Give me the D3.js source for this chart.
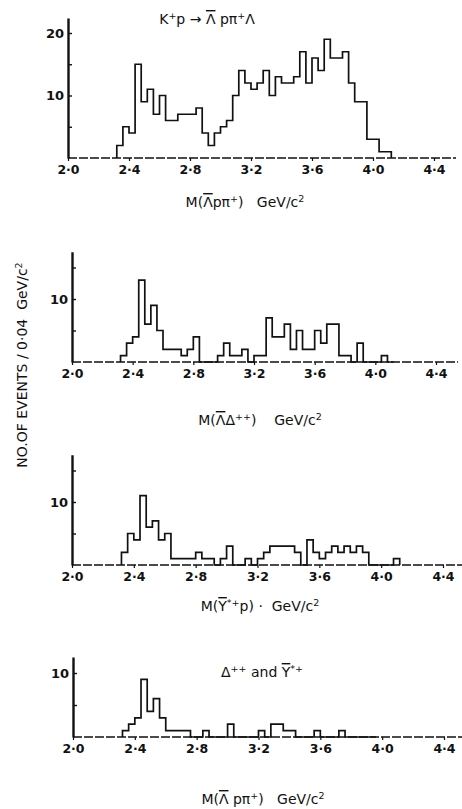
<!DOCTYPE html>
<html>
<head>
<meta charset="utf-8">
<script src="https://d3js.org/d3.v7.min.js"></script>
<style>
body { margin: 0; background: #fff; }
svg text { font-family: "DejaVu Sans", sans-serif; fill: #111; }
</style>
</head>
<body>
<script>
// bins of 0.04 GeV/c2, first bin starts at 2.32
var binStart = 2.32,
	binWidth = 0.04;

var xTicks = [2.0, 2.4, 2.8, 3.2, 3.6, 4.0, 4.4],
	xTickLabels = ["2·0", "2·4", "2·8", "3·2", "3·6", "4·0", "4·4"];

var countsLambdaPPi = [2, 5, 4, 15, 9, 11, 7, 10, 6, 6, 7, 7, 7, 8, 4, 2, 4, 5, 6, 10, 14, 12, 11,
	12, 14, 10, 13, 12, 12, 13, 17, 12, 16, 14, 19, 16, 16, 17, 12, 9, 9, 3, 3, 1, 1];
var countsLambdaDelta = [1, 3, 4, 13, 6, 9, 5, 2, 2, 2, 1, 2, 4, 0, 0, 0, 1, 3, 1, 1, 2, 0, 1,
	1, 7, 4, 4, 6, 2, 5, 2, 2, 5, 3, 6, 6, 1, 1, 0, 3, 0, 0, 0, 1, 0];
var countsYstarP = [2, 5, 4, 11, 6, 7, 4, 5, 1, 1, 1, 1, 2, 1, 1, 0, 1, 3, 0, 0, 1, 0, 1,
	2, 3, 3, 3, 3, 2, 0, 4, 2, 1, 2, 3, 2, 3, 2, 3, 2, 0, 0, 0, 0, 1];
var countsBoth = [1, 2, 3, 9, 4, 6, 3, 1, 1, 1, 1, 0, 0, 1, 0, 0, 0, 2, 0, 0, 0, 0, 1,
	0, 2, 2, 1, 1, 0, 0, 0, 1, 0, 0, 0, 1, 0, 0, 0, 0, 0];

var yTicks = [5, 10, 15, 20],
	yTickLabels = [10, 20];

var width = 462,
	height = 809;

var svg = d3.select("body").append("svg")
		.attr("width", width)
		.attr("height", height);

// text made of pieces: plain, superscript or overlined
function richText(g, x, y, parts, size){
	var t = g.append("text")
		.attr("x", x)
		.attr("y", y)
		.attr("text-anchor", "middle")
		.attr("font-size", size)
		.attr("xml:space", "preserve");
	parts.forEach(function(p){
		var s = t.append("tspan").text(p.t);
		if (p.sup) s.attr("baseline-shift", "super").attr("font-size", size * 0.68);
		if (p.over) s.style("text-decoration", "overline");
	});
	return t;
}

var panels = [
	{counts: countsLambdaPPi, x0: 68, x1: 434, base: 158, unit: 6.25, yMax: 22.4},
	{counts: countsLambdaDelta, x0: 72, x1: 436, base: 362, unit: 6.3, yMax: 17.5},
	{counts: countsYstarP, x0: 72, x1: 443, base: 565, unit: 6.3, yMax: 17.5},
	{counts: countsBoth, x0: 73, x1: 444, base: 737, unit: 6.4, yMax: 12.5}
];

panels.forEach(function(p){
	var x = d3.scaleLinear().domain([2.0, 4.4]).range([p.x0, p.x1]),
		y = d3.scaleLinear().domain([0, p.yMax]).range([p.base, p.base - p.yMax * p.unit]);

	var g = svg.append("g");

	// dashed baseline running off to the right
	g.append("line")
		.attr("x1", x(2.0))
		.attr("x2", x(4.4) + 22)
		.attr("y1", y(0))
		.attr("y2", y(0))
		.attr("stroke", "#111")
		.attr("stroke-width", 1.6)
		.attr("stroke-dasharray", "9,2");

	var xAxis = g.append("g")
		.attr("transform", "translate(0," + y(0) + ")")
		.call(d3.axisBottom(x)
			.tickValues(xTicks)
			.tickFormat(function(d, i){ return xTickLabels[i]; })
			.tickSize(3)
			.tickPadding(4)
			.tickSizeOuter(0));
	xAxis.select(".domain").remove();
	xAxis.selectAll("line").attr("stroke", "#111").attr("stroke-width", 1.2);
	xAxis.selectAll("text")
		.attr("font-size", 12.5)
		.attr("font-weight", "bold")
		.attr("font-family", "DejaVu Sans, sans-serif")
		.attr("fill", "#111");

	var yAxis = g.append("g")
		.attr("transform", "translate(" + x(2.0) + ",0)")
		.call(d3.axisLeft(y)
			.tickValues(yTicks.filter(function(d){ return d < p.yMax; }))
			.tickFormat(function(d){ return yTickLabels.indexOf(d) >= 0 ? d : ""; })
			.tickSize(-4)
			.tickPadding(4)
			.tickSizeOuter(0));
	yAxis.select(".domain").attr("stroke", "#111").attr("stroke-width", 2.4);
	yAxis.selectAll("line").attr("stroke", "#111").attr("stroke-width", 1.4);
	yAxis.selectAll("text")
		.attr("font-size", 13)
		.attr("font-weight", "bold")
		.attr("font-family", "DejaVu Sans, sans-serif")
		.attr("fill", "#111");

	var pts = [[binStart, 0]];
	p.counts.forEach(function(c, i){ pts.push([binStart + i * binWidth, c]); });
	pts.push([binStart + p.counts.length * binWidth, 0]);

	g.append("path")
		.datum(pts)
		.attr("d", d3.line()
			.x(function(d){ return x(d[0]); })
			.y(function(d){ return y(d[1]); })
			.curve(d3.curveStepAfter))
		.attr("fill", "none")
		.attr("stroke", "#111")
		.attr("stroke-width", 1.7);
});

var L = svg.append("g");

richText(L, 207, 24, [{t: "K"}, {t: "+", sup: true}, {t: "p → "}, {t: "Λ", over: true}, {t: " pπ"}, {t: "+", sup: true}, {t: "Λ"}], 14);

richText(L, 245, 207, [{t: "M("}, {t: "Λ", over: true}, {t: "pπ"}, {t: "+", sup: true}, {t: ")   GeV/c"}, {t: "2", sup: true}], 14);
richText(L, 260, 425, [{t: "M("}, {t: "Λ", over: true}, {t: "Δ"}, {t: "++", sup: true}, {t: ")    GeV/c"}, {t: "2", sup: true}], 14);
richText(L, 260, 611, [{t: "M("}, {t: "Y", over: true}, {t: "*+", sup: true}, {t: "p) ·  GeV/c"}, {t: "2", sup: true}], 14);
richText(L, 262, 677, [{t: "Δ"}, {t: "++", sup: true}, {t: " and "}, {t: "Y", over: true}, {t: "*+", sup: true}], 14);
richText(L, 263, 804, [{t: "M("}, {t: "Λ", over: true}, {t: " pπ"}, {t: "+", sup: true}, {t: ")   GeV/c"}, {t: "2", sup: true}], 14);

richText(L, 0, 0, [{t: "NO.OF EVENTS / 0·04  GeV/c"}, {t: "2", sup: true}], 14)
	.attr("transform", "translate(27,365) rotate(-90)");
</script>
</body>
</html>
